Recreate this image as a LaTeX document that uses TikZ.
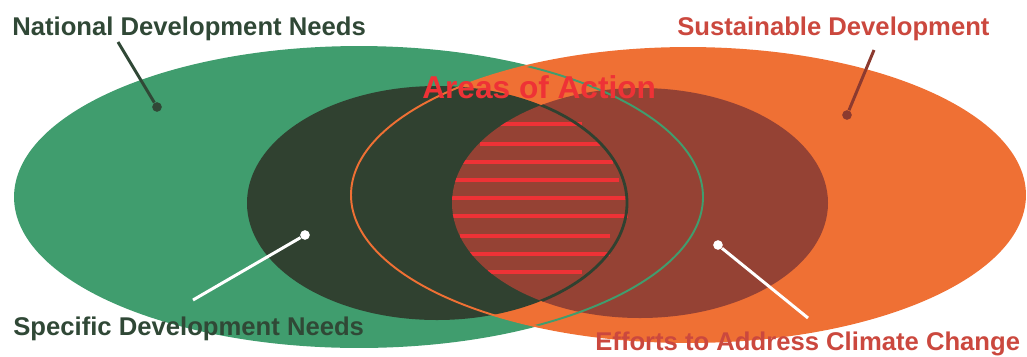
\documentclass[tikz,border=0pt]{standalone}
\usepackage{fontspec}
\setmainfont{Liberation Sans}
\usepackage{tikz}
\definecolor{natgreen}{RGB}{64,157,110}
\definecolor{susorange}{RGB}{239,112,52}
\definecolor{specgreen}{RGB}{48,65,48}
\definecolor{effred}{RGB}{149,66,52}
\definecolor{actred}{RGB}{238,50,54}
\definecolor{labgreen}{RGB}{48,72,54}
\definecolor{labred}{RGB}{203,72,62}
\definecolor{pinred}{RGB}{140,58,47}

\begin{document}
\begin{tikzpicture}[x=0.02cm, y=-0.02cm,
    lab/.style={font=\fontsize{14.6}{16}\selectfont\bfseries, inner sep=0pt, anchor=base west},
    pin/.style={line width=1.7pt},
    dot/.style={circle, inner sep=0pt, minimum size=5.5pt}]
    \useasboundingbox (0,0) rectangle (1027,356);
    \fill[natgreen]  (359,197) ellipse [x radius=344, y radius=150];
    \fill[susorange] (688,195) ellipse [x radius=337, y radius=147];
    \fill[specgreen] (437,203) ellipse [x radius=190, y radius=117];
    \fill[effred]    (640,203) ellipse [x radius=188, y radius=115];
    \begin{scope}
      \clip (640,203) ellipse [x radius=188, y radius=115];
      \foreach \y/\a/\b in {124/498/582, 144/480/600, 162/460/613, 180/452/619,
                            198/452/628, 216/452/628, 236/460/610, 254/470/610, 272/488/582}
        \draw[actred, line width=2.2pt] (\a,\y) -- (\b,\y);
      \draw[specgreen, line width=1.6pt] (437,203) ellipse [x radius=190, y radius=117];
    \end{scope}
    \draw[natgreen, line width=1.1pt]  (359,197) ellipse [x radius=344, y radius=150];
    \draw[susorange, line width=1.1pt] (688,195) ellipse [x radius=337, y radius=147];
    % pins
    \node[dot, fill=labgreen] (natdot) at (157,107) {};
    \coordinate (nattip) at (118,42);
    \draw[pin, labgreen] (nattip) -- (natdot);
    \node[dot, fill=pinred] (susdot) at (847,115) {};
    \coordinate (sustip) at (874,50);
    \draw[pin, pinred] (sustip) -- (susdot);
    \node[dot, fill=white] (specdot) at (305,235) {};
    \coordinate (spectip) at (193,300);
    \draw[pin, white] (spectip) -- (specdot);
    \node[dot, fill=white] (effdot) at (718,245) {};
    \coordinate (efftip) at (808,318);
    \draw[pin, white] (efftip) -- (effdot);
    % labels
    \node[lab, labgreen] (natlab) at (12,35) {National Development Needs};
    \node[lab, labred] (suslab) at (677,35) {Sustainable Development};
    \node[lab, actred, font=\fontsize{18}{20}\selectfont\bfseries] (actlab) at (422,98) {Areas of Action};
    \node[lab, labgreen] (speclab) at (13,335) {Specific Development Needs};
    \node[lab, labred] (efflab) at (595,350) {Efforts to Address Climate Change};
\end{tikzpicture}
\end{document}
